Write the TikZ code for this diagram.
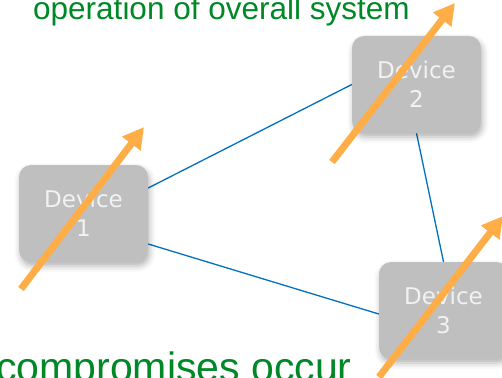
\documentclass[tikz,border=0pt]{standalone}
\usepackage{fontspec}
\setmainfont{Liberation Sans}
\newfontfamily\devfont{DejaVu Sans}
\usetikzlibrary{arrows.meta,shadows.blur,calc,backgrounds}

\definecolor{devgray}{RGB}{191,191,191}
\definecolor{devtext}{RGB}{242,242,242}
\definecolor{linkblue}{RGB}{0,112,192}
\definecolor{attack}{RGB}{255,173,71}
\definecolor{notegreen}{RGB}{0,136,38}

\tikzset{
  device/.style={rectangle, rounded corners=12pt, fill=devgray, draw=none,
    minimum width=129pt, minimum height=97pt, inner sep=0pt,
    align=center, text=devtext,
    font=\devfont\fontsize{23}{29}\selectfont,
    blur shadow={shadow xshift=1.5pt, shadow yshift=-4pt,
      shadow blur radius=6pt, shadow opacity=30}},
  link/.style={draw=linkblue, line width=1.3pt},
  threat/.style={draw=attack, line width=7pt,
    -{Triangle[length=21pt,width=22pt]}},
  note/.style={text=notegreen, inner sep=0pt}
}

\begin{document}
\begin{tikzpicture}[x=1pt,y=-1pt]
  \useasboundingbox (0,0) rectangle (502,377);

  % captions
  \node[note, anchor=base west, font=\fontsize{31.5}{36}\selectfont]
    (top) at (33,20) {operation of overall system};
  \node[note, anchor=base west, font=\fontsize{41}{46}\selectfont]
    (bottom) at (-4,381) {compromises occur};

  % devices
  \node[device] (d1) at (83.5,213.5) {Device\\1};
  \node[device] (d2) at (416.5,84.5) {Device\\2};
  \node[device] (d3) at (443.5,310.5) {Device\\3};

  % links between devices, kept underneath the boxes
  \begin{scope}[on background layer]
    \draw[link] ($(d1.east)+(0,-25.5)$) -- (d2.west);
    \draw[link] ($(d1.east)+(0,30.5)$) -- ($(d3.west)+(0,3.5)$);
    \draw[link] (d2.south) -- (d3.north);
  \end{scope}

  % attack arrows crossing the devices
  \coordinate (a1s) at (21,289);
  \coordinate (a1e) at (144,127);
  \coordinate (a2s) at (332,162);
  \coordinate (a2e) at (455,3);
  \coordinate (a3s) at (379,377);
  \coordinate (a3e) at (503,216);
  \draw[threat] (a1s) -- (a1e);
  \draw[threat] (a2s) -- (a2e);
  \draw[threat] (a3s) -- (a3e);
\end{tikzpicture}
\end{document}
